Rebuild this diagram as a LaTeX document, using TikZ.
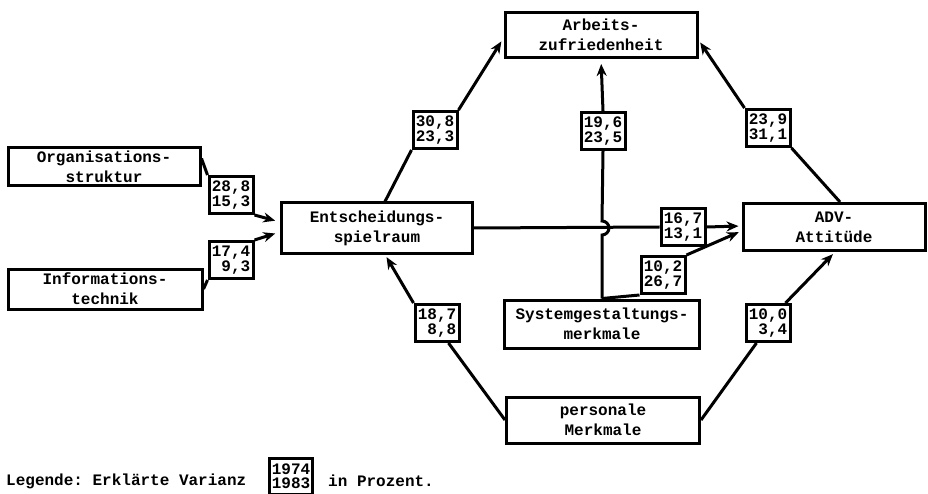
\documentclass[tikz,border=0pt]{standalone}
\usepackage{fontspec}
\setmonofont{Liberation Mono}
\usetikzlibrary{arrows.meta}

\tikzset{
    kasten/.style = {draw, line width=3pt, align=center, inner sep=2pt,
        font=\ttfamily\bfseries\fontsize{16}{20}\selectfont},
    wert/.style   = {draw, line width=3pt, align=right, inner sep=2pt,
        minimum width=44pt, minimum height=37pt,
        font=\ttfamily\bfseries\fontsize{16}{14.5}\selectfont},
    linie/.style  = {line width=3pt},
    pfeil/.style  = {line width=3pt, -{Stealth[length=12pt,width=10pt]}},
}

\begin{document}
\begin{tikzpicture}[x=1pt, y=-1pt]
        \useasboundingbox (0, 0) rectangle (928, 494);

        % Kaesten
        \node (org)  [kasten, minimum width=192pt, minimum height=38pt] at (104, 167) {Organisations-\\struktur};
        \node (info) [kasten, minimum width=194pt, minimum height=40pt] at (105, 289) {Informations-\\technik};
        \node (ent)  [kasten, minimum width=191pt, minimum height=50pt] at (377, 228) {Entscheidungs-\\spielraum};
        \node (arb)  [kasten, minimum width=192pt, minimum height=45pt] at (601, 35)  {Arbeits-\\zufriedenheit};
        \node (adv)  [kasten, minimum width=182pt, minimum height=47pt] at (834, 227) {ADV-\\Attitüde};
        \node (sys)  [kasten, minimum width=195pt, minimum height=48pt] at (602, 324) {Systemgestaltungs-\\merkmale};
        \node (pers) [kasten, minimum width=193pt, minimum height=46pt] at (603, 420) {personale\\Merkmale};

        % Varianzanteile
        \node (v1) [wert] at (231, 195) {28,8\\15,3};
        \node (v2) [wert] at (231, 260) {17,4\\9,3};
        \node (v3) [wert] at (435, 130) {30,8\\23,3};
        \node (v4) [wert] at (603, 131) {19,6\\23,5};
        \node (v5) [wert] at (768, 128) {23,9\\31,1};
        \node (v6) [wert] at (683, 227) {16,7\\13,1};
        \node (v7) [wert] at (663, 275) {10,2\\26,7};
        \node (v8) [wert] at (437, 323) {18,7\\8,8};
        \node (v9) [wert] at (768, 323) {10,0\\3,4};

        % Pfeile
        \draw[linie] ([yshift=-12pt]org.north east) -- (v1.north west);
        \draw[pfeil, shorten >=5pt] (v1.south east) -- ([yshift=6pt]ent.west);
        \draw[linie] (info.east) -- (v2.south west);
        \draw[pfeil, shorten >=5pt] (v2.north east) -- ([yshift=-4pt]ent.west);

        \draw[linie] ([xshift=8pt]ent.north) -- (v3.south west);
        \draw[pfeil, shorten >=4pt] (v3.north east) -- ([yshift=-3pt]arb.west);

        \draw[linie] (sys.north) -- ([yshift=-7pt]sys.north |- ent.east)
            arc[start angle=-90, end angle=90, radius=7pt] -- (v4.south);
        \draw[pfeil, shorten >=5pt] (v4.north) -- (arb.south);

        \draw[linie] (ent.east) -- (v6.west);
        \draw[pfeil, shorten >=3pt] (v6.east) -- ([yshift=1pt]adv.west);
        \draw[linie] (sys.north) -- (v7.south west);
        \draw[pfeil, shorten >=3pt] (v7.north east) -- ([yshift=-4pt]adv.west);

        \draw[linie] ([xshift=6pt]adv.north) -- (v5.south east);
        \draw[pfeil, shorten >=3pt] (v5.north west) -- ([yshift=-5pt]arb.east);

        \draw[linie] (pers.west) -- ([xshift=-12pt]v8.south east);
        \draw[pfeil, shorten >=3pt] (v8.north west) -- ([xshift=8pt]ent.south);
        \draw[linie] (pers.east) -- ([xshift=12pt]v9.south west);
        \draw[pfeil, shorten >=3pt] ([xshift=-6pt]v9.north east) -- ([xshift=1pt]adv.south);

        % Legende
        \node (leg)  [anchor=west, font=\ttfamily\bfseries\fontsize{16}{20}\selectfont, inner sep=0pt] at (6, 481) {Legende: Erklärte Varianz};
        \node (lbox) [wert, align=center, minimum width=42pt, minimum height=36pt] at (291, 476) {1974\\1983};
        \node (proz) [anchor=west, font=\ttfamily\bfseries\fontsize{16}{20}\selectfont, inner sep=0pt] at (328, 481) {in Prozent.};
\end{tikzpicture}
\end{document}
